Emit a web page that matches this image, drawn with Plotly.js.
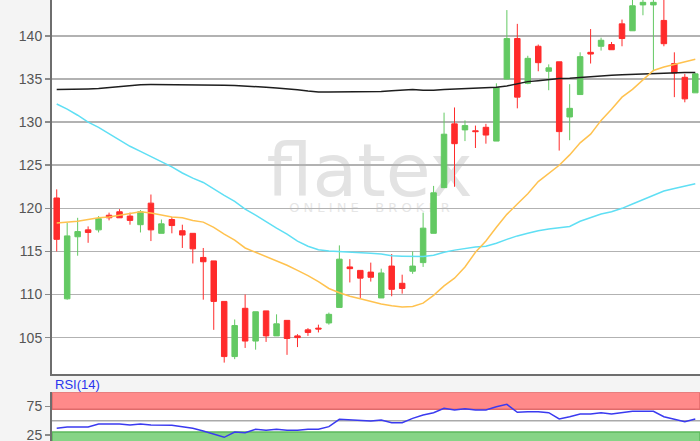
<!DOCTYPE html>
<html><head><meta charset="utf-8">
<script src="https://cdn.plot.ly/plotly-3.0.1.min.js"></script>
<style>html,body{margin:0;padding:0;background:#f4f4f4;} #chart{width:700px;height:441px;}</style>
</head><body><div id="chart"></div>
<script>
// OHLC values (62 sessions)
const openP  = [121.2,109.5,116.7,117.5,117.5,119.2,119.6,119.1,118.1,120.6,117.1,118.7,117.4,117.1,114.3,113.9,109.2,102.8,108.4,104.6,108.1,105.2,107.0,105.2,105.9,106.1,106.7,108.5,113.2,112.8,112.6,109.6,113.3,111.3,112.7,113.7,117.1,122.4,129.8,129.1,129.0,129.4,127.8,135.0,139.7,134.5,138.8,135.9,137.0,130.6,133.2,138.1,138.8,139.0,141.4,140.6,143.6,143.6,141.8,136.8,135.2,133.4];
const highP  = [122.2,118.3,118.9,117.9,119.1,119.5,119.9,119.5,119.8,121.6,118.7,119.0,118.1,117.1,115.4,113.9,109.2,107.1,110.0,108.0,108.1,107.7,107.0,105.4,106.1,106.5,107.9,115.7,114.1,112.8,113.7,113.0,114.7,112.3,115.0,119.5,122.6,131.1,131.7,130.2,129.6,129.8,134.5,143.0,141.4,137.7,139.0,136.7,137.0,134.4,138.1,140.8,139.8,139.3,141.9,145.0,145.0,145.0,145.0,138.1,135.6,135.7];
const lowP   = [115.0,109.4,114.5,116.0,117.2,118.6,118.9,118.1,117.2,116.2,117.1,117.1,115.4,113.6,109.4,105.9,102.1,102.5,103.8,103.6,104.5,105.2,103.0,103.9,105.2,105.6,106.5,108.5,111.4,109.6,111.5,109.6,109.8,110.1,112.4,113.2,117.1,122.4,122.5,127.8,127.0,127.5,127.8,135.0,131.6,134.4,135.9,133.7,126.7,127.9,133.2,136.8,138.3,138.4,138.8,140.6,142.4,135.9,138.8,132.9,132.3,133.4];
const closeP = [116.4,116.8,117.3,117.2,118.8,118.9,118.9,118.6,119.6,117.5,118.2,118.0,116.9,115.3,113.8,109.2,102.8,106.4,104.6,108.0,105.2,106.6,104.9,105.0,105.6,106.0,107.7,114.1,113.0,111.9,112.0,112.5,110.6,110.7,113.3,117.7,121.8,128.6,127.5,129.6,128.9,128.5,134.0,139.7,132.9,137.4,136.9,136.3,128.9,131.6,137.6,137.9,139.5,138.4,139.7,143.5,143.9,143.9,139.1,135.7,132.7,135.6];

// Moving averages
const maShort = [118.3,118.4,118.5,118.7,118.9,119.0,119.2,119.4,119.6,119.45,119.2,119.0,118.9,118.6,118.4,117.8,117.0,116.3,115.4,114.9,114.4,113.9,113.4,112.8,112.2,111.5,110.7,110.2,109.8,109.5,109.2,108.9,108.7,108.55,108.6,109.0,109.9,111.0,111.9,113.2,114.9,116.2,117.8,119.3,120.5,121.7,123.1,124.1,125.0,126.2,127.6,128.6,130.2,131.5,132.9,133.8,134.9,136.0,136.4,136.7,137.0,137.3];
const maMid   = [132.1,131.5,130.8,130.0,129.4,128.7,128.0,127.2,126.6,126.0,125.4,124.8,124.1,123.5,123.0,122.2,121.5,120.8,119.9,119.2,118.4,117.7,117.0,116.2,115.6,115.2,115.05,115.0,114.9,114.85,114.8,114.7,114.5,114.45,114.4,114.4,114.55,114.9,115.15,115.35,115.5,115.6,115.95,116.4,116.8,117.1,117.4,117.6,117.75,117.9,118.5,118.9,119.35,119.6,120.0,120.5,121.0,121.5,122.0,122.3,122.6,122.85];
const maLong  = [133.78,133.78,133.8,133.85,133.9,134.0,134.1,134.2,134.35,134.36,134.36,134.36,134.36,134.36,134.36,134.3,134.28,134.25,134.2,134.1,134.05,133.95,133.88,133.75,133.6,133.5,133.5,133.5,133.5,133.5,133.5,133.55,133.65,133.75,133.8,133.7,133.7,133.8,133.85,133.9,133.95,134.0,134.05,134.2,134.45,134.7,134.8,134.95,135.05,135.1,135.2,135.3,135.35,135.45,135.5,135.55,135.6,135.65,135.7,135.72,135.75,135.75];

// RSI(14)
const rsi = [36.5,38.8,38.8,38.8,44.1,44.0,44.0,42.3,44.0,42.3,41.8,41.8,39.4,36.5,31.7,25.9,20.6,30.0,28.8,34.7,33.0,34.7,33.0,33.0,34.7,34.7,39.4,52.4,51.1,49.7,49.4,51.0,46.4,46.4,54.1,60.0,64.0,71.8,68.8,71.1,68.8,68.8,74.6,78.8,64.7,65.8,65.8,64.0,52.9,57.0,61.7,61.7,64.0,61.7,64.0,66.5,66.5,66.5,57.0,52.9,48.2,52.9];

const priceTicks = [105,110,115,120,125,130,135,140];
const rsiTicks = [25,75];

const xIdx = openP.map((_, i) => i);

const traces = [
  {type:'candlestick', x:xIdx, open:openP, high:highP, low:lowP, close:closeP, xaxis:'x', yaxis:'y',
   increasing:{line:{color:'#63c963', width:1}, fillcolor:'#63c963'},
   decreasing:{line:{color:'#ff2b2b', width:1}, fillcolor:'#ff2b2b'},
   whiskerwidth:0, hoverinfo:'skip', showlegend:false},
  {type:'scatter', mode:'lines', x:xIdx, y:maLong, line:{color:'#1e1e1e', width:1.5}, xaxis:'x', yaxis:'y', hoverinfo:'skip', showlegend:false},
  {type:'scatter', mode:'lines', x:xIdx, y:maMid, line:{color:'#5fdff4', width:1.5}, xaxis:'x', yaxis:'y', hoverinfo:'skip', showlegend:false},
  {type:'scatter', mode:'lines', x:xIdx, y:maShort, line:{color:'#ffc24f', width:1.5}, xaxis:'x', yaxis:'y', hoverinfo:'skip', showlegend:false},
  {type:'scatter', mode:'lines', x:xIdx, y:rsi, line:{color:'#3a3af0', width:1.5}, xaxis:'x2', yaxis:'y2', hoverinfo:'skip', showlegend:false}
];

const tickFont = {family:'Liberation Sans, Arial, sans-serif', size:14, color:'#555'};

const layout = {
  width:700, height:441,
  margin:{l:52, r:0, t:0, b:0, pad:0},
  paper_bgcolor:'#f4f4f4', plot_bgcolor:'#ffffff',
  boxgap:0.25,
  showlegend:false,
  xaxis:{domain:[0,1], range:[-0.45,61.45], anchor:'y', showticklabels:false, showgrid:false, zeroline:false,
         showline:true, linecolor:'#6e6e6e', linewidth:2, ticks:'', rangeslider:{visible:false}, fixedrange:true},
  yaxis:{domain:[0.1508,1], range:[100.72,144.17], anchor:'x', tickvals:priceTicks, ticktext:priceTicks.map(String),
         showgrid:true, gridcolor:'#b2b2b2', gridwidth:1.5, zeroline:false,
         showline:true, linecolor:'#6e6e6e', linewidth:2, ticks:'outside', ticklen:5, tickcolor:'#8a8a8a', tickwidth:1.5,
         tickfont:tickFont, fixedrange:true},
  xaxis2:{domain:[0,1], range:[-0.45,61.45], anchor:'y2', showticklabels:false, showgrid:false, zeroline:false, showline:false, ticks:''},
  yaxis2:{domain:[0,0.1104], range:[14.1,100], anchor:'x2', tickvals:rsiTicks, ticktext:rsiTicks.map(String),
          showgrid:false, zeroline:false, showline:true, linecolor:'#6e6e6e', linewidth:2, ticklabeloverflow:'allow',
          ticks:'outside', ticklen:5, tickcolor:'#8a8a8a', tickwidth:1.5, tickfont:tickFont},
  shapes:[
    {type:'rect', xref:'x2 domain', yref:'y2', x0:0, x1:1, y0:70, y1:100, fillcolor:'#ff8a8a', line:{color:'#e06a6a', width:1.5}, layer:'below'},
    {type:'rect', xref:'x2 domain', yref:'y2', x0:0, x1:1, y0:0, y1:30, fillcolor:'#86d486', line:{color:'#5cb85c', width:1.5}, layer:'below'},
    {type:'line', xref:'x2 domain', yref:'y2', x0:0, x1:1, y0:50, y1:50, line:{color:'#aaaaaa', width:1.5}, layer:'below'},
    {type:'rect', xref:'paper', yref:'paper', x0:0.27, x1:0.71, y0:0.555, y1:0.695, fillcolor:'rgba(0,0,0,0)', line:{width:0}, layer:'below',
     label:{text:'flatex', font:{family:'DejaVu Sans, sans-serif', size:73, color:'#e3e3e3'}, textposition:'middle center'}},
    {type:'rect', xref:'paper', yref:'paper', x0:0.27, x1:0.71, y0:0.51, y1:0.555, fillcolor:'rgba(0,0,0,0)', line:{width:0}, layer:'below',
     label:{text:'O N L I N E    B R O K E R', font:{family:'DejaVu Sans, sans-serif', size:13, color:'#e6e6e6'}, textposition:'middle center'}}
  ],
  annotations:[
    {text:'RSI(14)', xref:'paper', yref:'paper', x:0.002, y:1-384/441, xanchor:'left', yanchor:'middle', showarrow:false,
     font:{family:'Liberation Sans, Arial, sans-serif', size:13, color:'#2a35ee'}}
  ]
};

Plotly.newPlot('chart', traces, layout, {displayModeBar:false, staticPlot:true});
</script></body></html>
